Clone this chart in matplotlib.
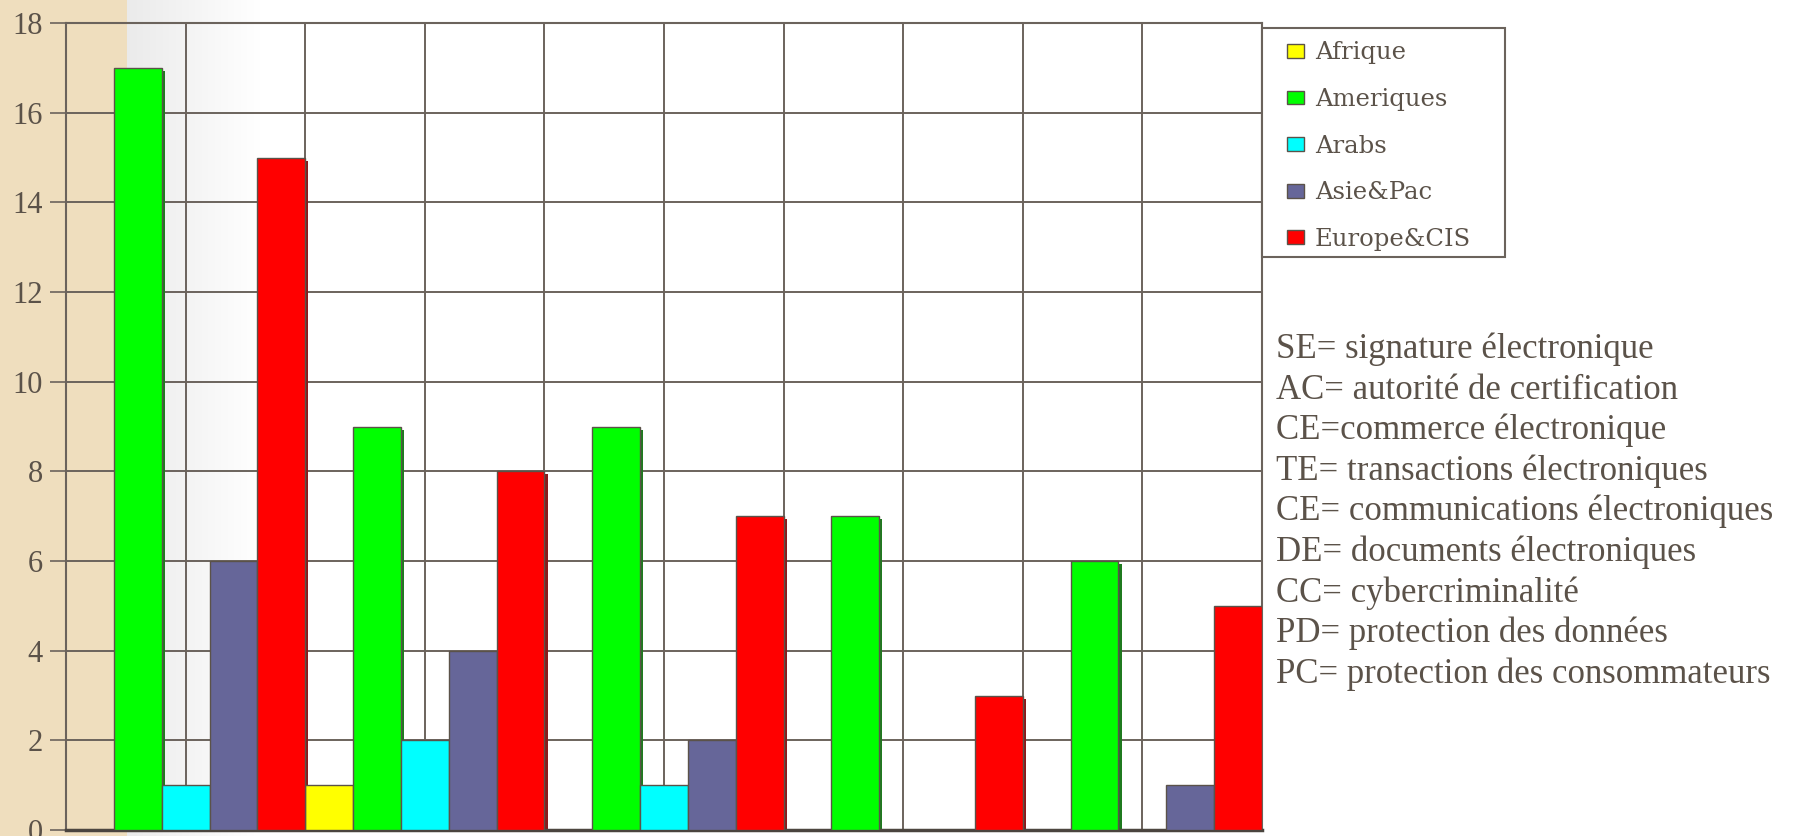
import numpy as np
import matplotlib.pyplot as plt
from matplotlib.patches import Rectangle

# five groups, five regions each (no category labels shown on the axis)
groups = [0, 1, 2, 3, 4]
series = ['Afrique', 'Ameriques', 'Arabs', 'Asie&Pac', 'Europe&CIS']
afrique = [0, 1, 0, 0, 0]
ameriques = [17, 9, 9, 7, 6]
arabs = [1, 2, 1, 0, 0]
asie_pac = [6, 4, 2, 0, 1]
europe_cis = [15, 8, 7, 3, 5]
yticks = [0, 2, 4, 6, 8, 10, 12, 14, 16, 18]

notes = [
    'SE= signature électronique',
    'AC= autorité de certification',
    'CE=commerce électronique',
    'TE= transactions électroniques',
    'CE= communications électroniques',
    'DE= documents électroniques',
    'CC= cybercriminalité',
    'PD= protection des données',
    'PC= protection des consommateurs',
]

colors = ['#ffff00', '#00ff00', '#00ffff', '#666699', '#ff0000']
shadows = ['#808000', '#1f7a1f', '#008080', '#33334d', '#8b1a1a']
text_col = '#5b5249'
line_col = '#6b635c'
serif = 'Liberation Serif'

W, H = 1816, 836
fig = plt.figure(figsize=(W / 100, H / 100), dpi=100)

# background: parchment strip on the left, grey fade to white
bg = fig.add_axes([0, 0, 1, 1], zorder=-10)
bg.axis('off')
img = np.ones((2, W, 3))
cols = np.arange(W)
parch = np.array([239, 222, 190]) / 255
img[:, cols < 127] = parch
fade = (cols >= 127) & (cols < 260)
t = (cols[fade] - 127) / (260 - 127)
g = (0.92 + 0.08 * t)[:, None] * np.ones(3)
img[:, fade] = g
bg.imshow(img, extent=[0, 1, 0, 1], aspect='auto')
bg.set_xlim(0, 1)
bg.set_ylim(0, 1)

ax = fig.add_axes([66 / W, 6 / H, (1262 - 66) / W, (830 - 23) / H])
ax.patch.set_alpha(0)

data = [afrique, ameriques, arabs, asie_pac, europe_cis]
x = np.array(groups, dtype=float)
width = 0.2
sw = 0.013
dy = 0.07
handles = []
for i, vals in enumerate(data):
    off = (i - 2) * width
    vals = np.array(vals, dtype=float)
    mask = vals > 0
    # 3d-ish shadow on the right side of each bar
    ax.bar(x[mask] + off + width / 2 + sw / 2, vals[mask] - dy, width=sw,
           color=shadows[i], zorder=2)
    b = ax.bar(x + off, vals, width=width, color=colors[i],
               edgecolor=text_col, linewidth=1, zorder=3, label=series[i])
    handles.append(b)

ax.set_xlim(-0.5, 4.5)
ax.set_ylim(0, 18)
ax.set_xticks(np.arange(-0.5, 4.51, 0.5))
ax.set_yticks(yticks)
ax.grid(True, color=line_col, linewidth=1.4)
ax.set_axisbelow(True)
ax.tick_params(axis='x', length=0, labelbottom=False)
ax.tick_params(axis='y', length=11.5, width=1.2, color=line_col, pad=5,
               labelsize=22, labelcolor=text_col)
for lab in ax.get_yticklabels():
    lab.set_family(serif)
for s in ax.spines.values():
    s.set_color(line_col)
    s.set_linewidth(1.5)
ax.spines['bottom'].set_color('#4a443e')
ax.spines['bottom'].set_linewidth(2.5)

# legend box
fig.patches.append(Rectangle((1262 / W, 1 - 257 / H), (1505 - 1262) / W,
                             (257 - 28) / H, transform=fig.transFigure,
                             facecolor='white', edgecolor=line_col,
                             linewidth=1.5, zorder=1))
leg = fig.legend(handles=handles, labels=series, loc='upper left',
                 bbox_to_anchor=(1287 / W, 1 - 41.5 / H), frameon=False,
                 borderpad=0, borderaxespad=0, handlelength=0.7,
                 handleheight=0.5, handletextpad=0.45, labelspacing=0.97,
                 prop={'family': 'DejaVu Serif', 'size': 17.5})
for t_ in leg.get_texts():
    t_.set_color(text_col)
leg.set_zorder(5)

for k, line in enumerate(notes):
    fig.text(1276 / W, 1 - (358 + k * 40.6) / H, line, va='baseline',
             ha='left', fontsize=25, family=serif, color=text_col)

fig.savefig('out.png', dpi=100)
